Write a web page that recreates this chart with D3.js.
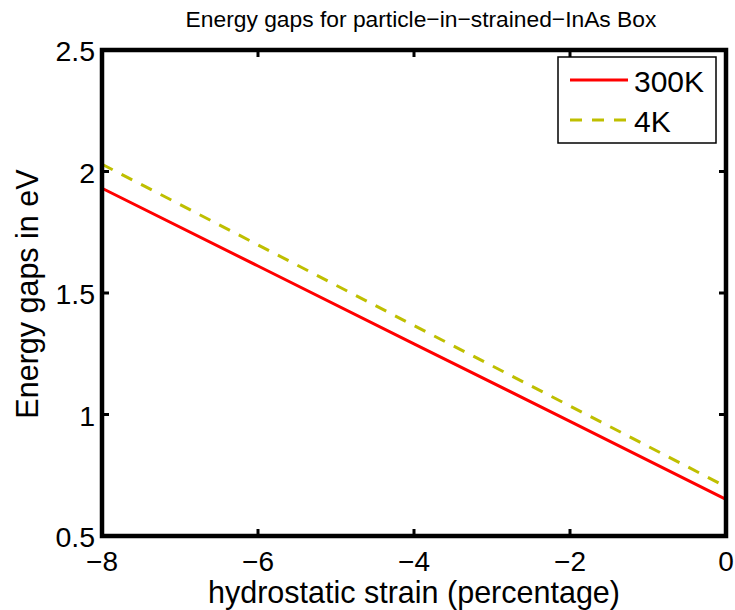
<!DOCTYPE html>
<html>
<head>
<meta charset="utf-8">
<script src="https://cdn.jsdelivr.net/npm/d3@7"></script>
<style>
  html, body { margin: 0; padding: 0; background: #fff; }
  svg { display: block; font-family: "Liberation Sans", Arial, Helvetica, sans-serif; }
</style>
</head>
<body>
<svg id="chart" width="735" height="610"></svg>
<script>
// ---- data ----
const strain = [-8, -6, -4, -2, 0];
const gap300K = [1.931, 1.611, 1.291, 0.972, 0.651];
const gap4K = [2.030, 1.698, 1.366, 1.035, 0.703];
const xTicks = [-8, -6, -4, -2, 0];
const xTickLabels = ["\u22128", "\u22126", "\u22124", "\u22122", "0"];
const yTicks = [0.5, 1, 1.5, 2, 2.5];
const yTickLabels = ["0.5", "1", "1.5", "2", "2.5"];
const seriesNames = ["300K", "4K"];
const titleText = "Energy gaps for particle\u2212in\u2212strained\u2212InAs Box";
const xLabelText = "hydrostatic strain (percentage)";
const yLabelText = "Energy gaps in eV";

// ---- layout ----
const L = 102, R = 726, T = 50, B = 536;
const svg = d3.select("#chart");
const x = d3.scaleLinear().domain([-8, 0]).range([L, R]);
const y = d3.scaleLinear().domain([0.5, 2.5]).range([B, T]);

const tickLen = 7;

// inner ticks on all four sides
const g = svg.append("g");
xTicks.forEach(v => {
  g.append("line").attr("x1", x(v)).attr("x2", x(v)).attr("y1", B).attr("y2", B - tickLen)
    .attr("stroke", "#000").attr("stroke-width", 3);
  g.append("line").attr("x1", x(v)).attr("x2", x(v)).attr("y1", T).attr("y2", T + tickLen)
    .attr("stroke", "#000").attr("stroke-width", 3);
});
yTicks.forEach(v => {
  g.append("line").attr("x1", L).attr("x2", L + tickLen).attr("y1", y(v)).attr("y2", y(v))
    .attr("stroke", "#000").attr("stroke-width", 3);
  g.append("line").attr("x1", R).attr("x2", R - tickLen).attr("y1", y(v)).attr("y2", y(v))
    .attr("stroke", "#000").attr("stroke-width", 3);
});

// tick labels
xTicks.forEach((v, i) => {
  svg.append("text").attr("x", x(v)).attr("y", 571).attr("text-anchor", "middle")
    .attr("font-size", 28).text(xTickLabels[i]);
});
yTicks.forEach((v, i) => {
  svg.append("text").attr("x", 95).attr("y", y(v) + 11).attr("text-anchor", "end")
    .attr("font-size", 28.5).text(yTickLabels[i]);
});

// lines
const line = d3.line().x((d, i) => x(strain[i])).y(d => y(d));
svg.append("path").datum(gap300K).attr("d", line).attr("fill", "none")
  .attr("stroke", "#ff0000").attr("stroke-width", 3);
svg.append("path").datum(gap4K).attr("d", line).attr("fill", "none")
  .attr("stroke", "#bfbf00").attr("stroke-width", 3).attr("stroke-dasharray", "12,10");

// frame
svg.append("rect").attr("x", L).attr("y", T).attr("width", R - L).attr("height", B - T)
  .attr("fill", "none").attr("stroke", "#000").attr("stroke-width", 4.5);

// title & labels
svg.append("text").attr("x", 421).attr("y", 27).attr("text-anchor", "middle")
  .attr("font-size", 22.8).text(titleText);
svg.append("text").attr("x", 414).attr("y", 603).attr("text-anchor", "middle")
  .attr("font-size", 30.5).text(xLabelText);
svg.append("text").attr("transform", "translate(38,294) rotate(-90)").attr("text-anchor", "middle")
  .attr("font-size", 30.5).text(yLabelText);

// legend
const lg = svg.append("g");
lg.append("rect").attr("x", 558).attr("y", 57).attr("width", 158).attr("height", 86)
  .attr("fill", "#fff").attr("stroke", "#000").attr("stroke-width", 1.5);
const legendColors = ["#ff0000", "#bfbf00"];
const legendDash = [null, "12,10"];
seriesNames.forEach((name, i) => {
  const ly = 80 + i * 40;
  lg.append("line").attr("x1", 570).attr("x2", 628).attr("y1", ly).attr("y2", ly)
    .attr("stroke", legendColors[i]).attr("stroke-width", 3)
    .attr("stroke-dasharray", legendDash[i]);
  lg.append("text").attr("x", 634).attr("y", ly + 11.5).attr("font-size", 30).text(name);
});
</script>
</body>
</html>
